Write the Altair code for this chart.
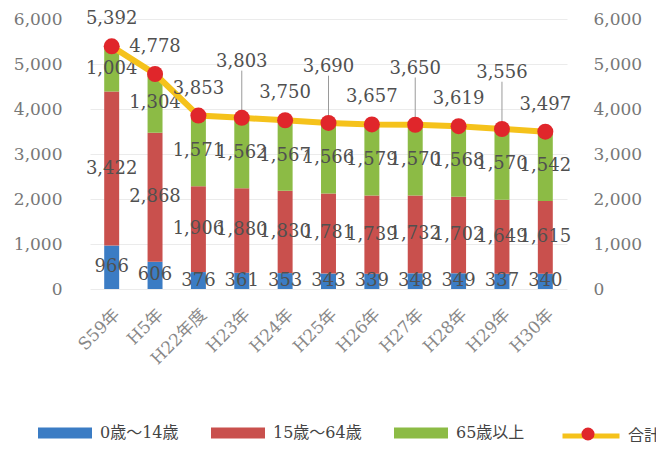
import altair as alt
import pandas as pd

categories = ["S59年", "H5年", "H22年度", "H23年", "H24年", "H25年", "H26年", "H27年", "H28年", "H29年", "H30年"]
age0_14 = [966, 606, 376, 361, 353, 343, 339, 348, 349, 337, 340]
age15_64 = [3422, 2868, 1906, 1880, 1830, 1781, 1739, 1732, 1702, 1649, 1615]
age65 = [1004, 1304, 1571, 1562, 1567, 1566, 1579, 1570, 1568, 1570, 1542]
totals = [5392, 4778, 3853, 3803, 3750, 3690, 3657, 3650, 3619, 3556, 3497]
series_names = ["0歳～14歳", "15歳～64歳", "65歳以上"]
total_name = "合計"
dot_key = "dot"
leader_cats = ["H23年", "H25年", "H27年", "H29年"]

colors = ["#3b7cc4", "#c9504d", "#8cbb45"]
line_color = "#f5c21b"
dot_color = "#e0262b"
num_font = "DejaVu Serif"
jp_font = "DejaVu Serif, Noto Sans CJK JP"
txt_color = "#505050"

rows = []
for i, c in enumerate(categories):
    start = 0
    for k, vals in enumerate([age0_14, age15_64, age65]):
        v = vals[i]
        rows.append({"cat": c, "series": series_names[k], "order": k, "value": v,
                     "start": start, "end": start + v, "mid": start + v / 2})
        start += v
bar_df = pd.DataFrame(rows)

tot_df = pd.DataFrame({"cat": categories, "total": totals, "name": total_name, "dot": dot_key})
tot_df["leader"] = tot_df["cat"].isin(leader_cats)
tot_df["lead_top"] = tot_df["total"] + 1050

yscale = alt.Scale(domain=[0, 6000], nice=False)
xenc = alt.X("cat:N", sort=categories, title=None,
             scale=alt.Scale(paddingInner=0.655, paddingOuter=0.3275),
             axis=alt.Axis(labelAngle=-45, labelFont=jp_font, labelFontSize=17,
                           labelColor="#888", ticks=False, domain=False, labelPadding=17))

left_axis = alt.Axis(values=[0, 1000, 2000, 3000, 4000, 5000, 6000], format=",d", title=None,
                     orient="left", labelFont=num_font, labelFontSize=17, labelColor="#777",
                     ticks=False, domain=False, labelPadding=28, grid=True, gridColor="#ebebeb")
right_axis = alt.Axis(values=[0, 1000, 2000, 3000, 4000, 5000, 6000], format=",d", title=None,
                      orient="right", labelFont=num_font, labelFontSize=17, labelColor="#777",
                      ticks=False, domain=False, labelPadding=26, grid=False)

bars = alt.Chart(bar_df).mark_bar().encode(
    x=xenc,
    y=alt.Y("start:Q", scale=yscale, axis=left_axis),
    y2="end:Q",
    color=alt.Color("series:N", sort=series_names,
                    scale=alt.Scale(domain=series_names, range=colors),
                    legend=alt.Legend(title=None, orient="none", legendX=-52, legendY=387,
                                      direction="horizontal", columns=3,
                                      symbolType="M-1,-0.2H1V0.2H-1Z", symbolSize=2916,
                                      symbolStrokeWidth=0, labelFont=jp_font, labelFontSize=16,
                                      labelColor="#444", labelOffset=8, columnPadding=32,
                                      padding=0)),
)

seg_labels = alt.Chart(bar_df).mark_text(font=num_font, fontSize=18, color=txt_color).encode(
    x=alt.X("cat:N", sort=categories),
    y=alt.Y("mid:Q", scale=yscale, axis=None),
    text=alt.Text("value:Q", format=","),
)

rules = alt.Chart(tot_df).transform_filter("datum.leader").mark_rule(color="#9a9a9a", strokeWidth=1).encode(
    x=alt.X("cat:N", sort=categories),
    y=alt.Y("total:Q", scale=yscale, axis=None),
    y2="lead_top:Q",
)

line = alt.Chart(tot_df).mark_line(strokeWidth=6).encode(
    x=alt.X("cat:N", sort=categories),
    y=alt.Y("total:Q", scale=yscale, axis=right_axis),
    stroke=alt.Stroke("name:N", scale=alt.Scale(domain=[total_name], range=[line_color]),
                      legend=alt.Legend(title=None, orient="none", legendX=470, legendY=386,
                                        symbolType="M-1,0H1", symbolSize=3249,
                                        symbolStrokeWidth=5, labelFont=jp_font, labelFontSize=16,
                                        labelColor="#444", labelOffset=6, padding=0)),
)

points = alt.Chart(tot_df).mark_circle(size=256, opacity=1).encode(
    x=alt.X("cat:N", sort=categories),
    y=alt.Y("total:Q", scale=yscale, axis=None),
    fill=alt.Fill("dot:N", scale=alt.Scale(domain=[dot_key], range=[dot_color]),
                  legend=alt.Legend(title=None, orient="none", legendX=491, legendY=408,
                                    symbolType="circle", symbolSize=170, symbolStrokeWidth=0,
                                    labelExpr="''", labelOffset=0, padding=0)),
)

tot_labels = alt.Chart(tot_df).transform_filter("!datum.leader").mark_text(
    font=num_font, fontSize=18, color=txt_color, dy=-27).encode(
    x=alt.X("cat:N", sort=categories),
    y=alt.Y("total:Q", scale=yscale, axis=None),
    text=alt.Text("total:Q", format=","),
)
tot_labels_hi = alt.Chart(tot_df).transform_filter("datum.leader").mark_text(
    font=num_font, fontSize=18, color=txt_color, dy=-56).encode(
    x=alt.X("cat:N", sort=categories),
    y=alt.Y("total:Q", scale=yscale, axis=None),
    text=alt.Text("total:Q", format=","),
)

chart = alt.layer(bars, seg_labels, rules, line, points, tot_labels, tot_labels_hi).resolve_axis(
    y="independent"
).properties(
    width=477, height=270,
    autosize=alt.AutoSizeParams(type="none"),
    padding={"left": 82, "top": 11, "right": 89, "bottom": 153},
    background="white",
).configure_view(stroke=None)

chart.save("out.html", embed_options={"renderer": "svg", "actions": False})
